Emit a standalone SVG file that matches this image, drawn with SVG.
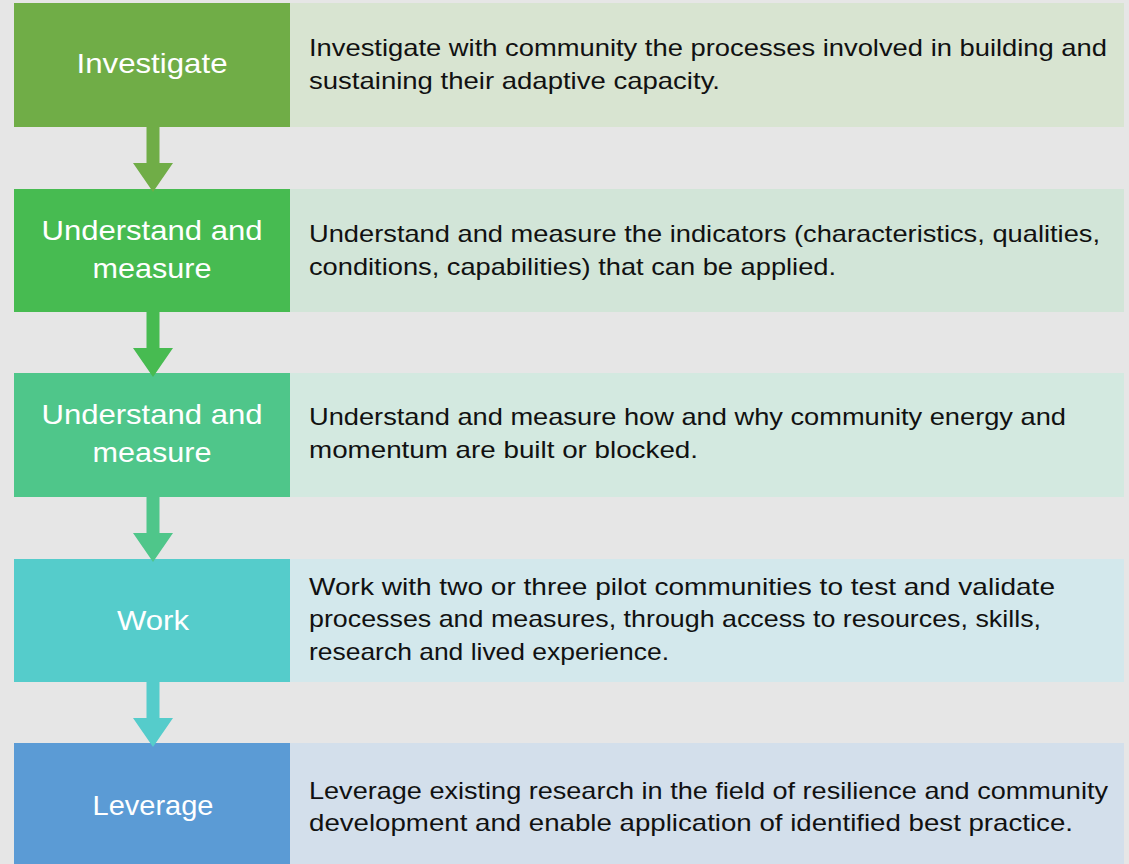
<svg xmlns="http://www.w3.org/2000/svg" width="1129" height="864" viewBox="0 0 1129 864">
<style>
.lbl{font-family:"Liberation Sans",Arial,sans-serif;font-size:28px;fill:#ffffff;text-anchor:middle}
.desc{font-family:"Liberation Sans",Arial,sans-serif;font-size:24px;fill:#111111}
</style>
<defs>
<path id="arr" d="M-6.5,0 H6.5 V36 H20 L0,65 L-20,36 H-6.5 Z"/>
</defs>
<rect x="0" y="0" width="1129" height="864" fill="#e6e6e6"/>
<g id="row1">
<rect x="14" y="3" width="276" height="124" fill="#70ad47"/>
<rect x="290" y="3" width="834" height="124" fill="#d8e4d1"/>
<text class="lbl" x="152" y="73" textLength="151" lengthAdjust="spacingAndGlyphs">Investigate</text>
<text class="desc" x="309" y="56" textLength="798" lengthAdjust="spacingAndGlyphs">Investigate with community the processes involved in building and</text>
<text class="desc" x="309" y="89" textLength="411" lengthAdjust="spacingAndGlyphs">sustaining their adaptive capacity.</text>
</g>
<g id="row2">
<rect x="14" y="189" width="276" height="123" fill="#47bb51"/>
<rect x="290" y="189" width="834" height="123" fill="#d2e5d8"/>
<text class="lbl" x="152" y="240" textLength="221" lengthAdjust="spacingAndGlyphs">Understand and</text>
<text class="lbl" x="152" y="278" textLength="119" lengthAdjust="spacingAndGlyphs">measure</text>
<text class="desc" x="309" y="242" textLength="791" lengthAdjust="spacingAndGlyphs">Understand and measure the indicators (characteristics, qualities,</text>
<text class="desc" x="309" y="275" textLength="527" lengthAdjust="spacingAndGlyphs">conditions, capabilities) that can be applied.</text>
</g>
<g id="row3">
<rect x="14" y="373" width="276" height="124" fill="#4fc68a"/>
<rect x="290" y="373" width="834" height="124" fill="#d3e9e0"/>
<text class="lbl" x="152" y="424" textLength="221" lengthAdjust="spacingAndGlyphs">Understand and</text>
<text class="lbl" x="152" y="462" textLength="119" lengthAdjust="spacingAndGlyphs">measure</text>
<text class="desc" x="309" y="425" textLength="757" lengthAdjust="spacingAndGlyphs">Understand and measure how and why community energy and</text>
<text class="desc" x="309" y="458" textLength="389" lengthAdjust="spacingAndGlyphs">momentum are built or blocked.</text>
</g>
<g id="row4">
<rect x="14" y="559" width="276" height="123" fill="#55cccb"/>
<rect x="290" y="559" width="834" height="123" fill="#d3e8ec"/>
<text class="lbl" x="153" y="630" textLength="72" lengthAdjust="spacingAndGlyphs">Work</text>
<text class="desc" x="309" y="595" textLength="746" lengthAdjust="spacingAndGlyphs">Work with two or three pilot communities to test and validate</text>
<text class="desc" x="309" y="627" textLength="732" lengthAdjust="spacingAndGlyphs">processes and measures, through access to resources, skills,</text>
<text class="desc" x="309" y="660" textLength="360" lengthAdjust="spacingAndGlyphs">research and lived experience.</text>
</g>
<g id="row5">
<rect x="14" y="743" width="276" height="121" fill="#5b9bd5"/>
<rect x="290" y="743" width="834" height="121" fill="#d3dfeb"/>
<text class="lbl" x="153" y="815" textLength="121" lengthAdjust="spacingAndGlyphs">Leverage</text>
<text class="desc" x="309" y="799" textLength="799" lengthAdjust="spacingAndGlyphs">Leverage existing research in the field of resilience and community</text>
<text class="desc" x="309" y="831" textLength="764" lengthAdjust="spacingAndGlyphs">development and enable application of identified best practice.</text>
</g>
<g id="connectors">
<use href="#arr" x="153" y="127" fill="#70ad47"/>
<use href="#arr" x="153" y="312" fill="#47bb51"/>
<use href="#arr" x="153" y="497" fill="#4fc68a"/>
<use href="#arr" x="153" y="682" fill="#55cccb"/>
</g>
</svg>
